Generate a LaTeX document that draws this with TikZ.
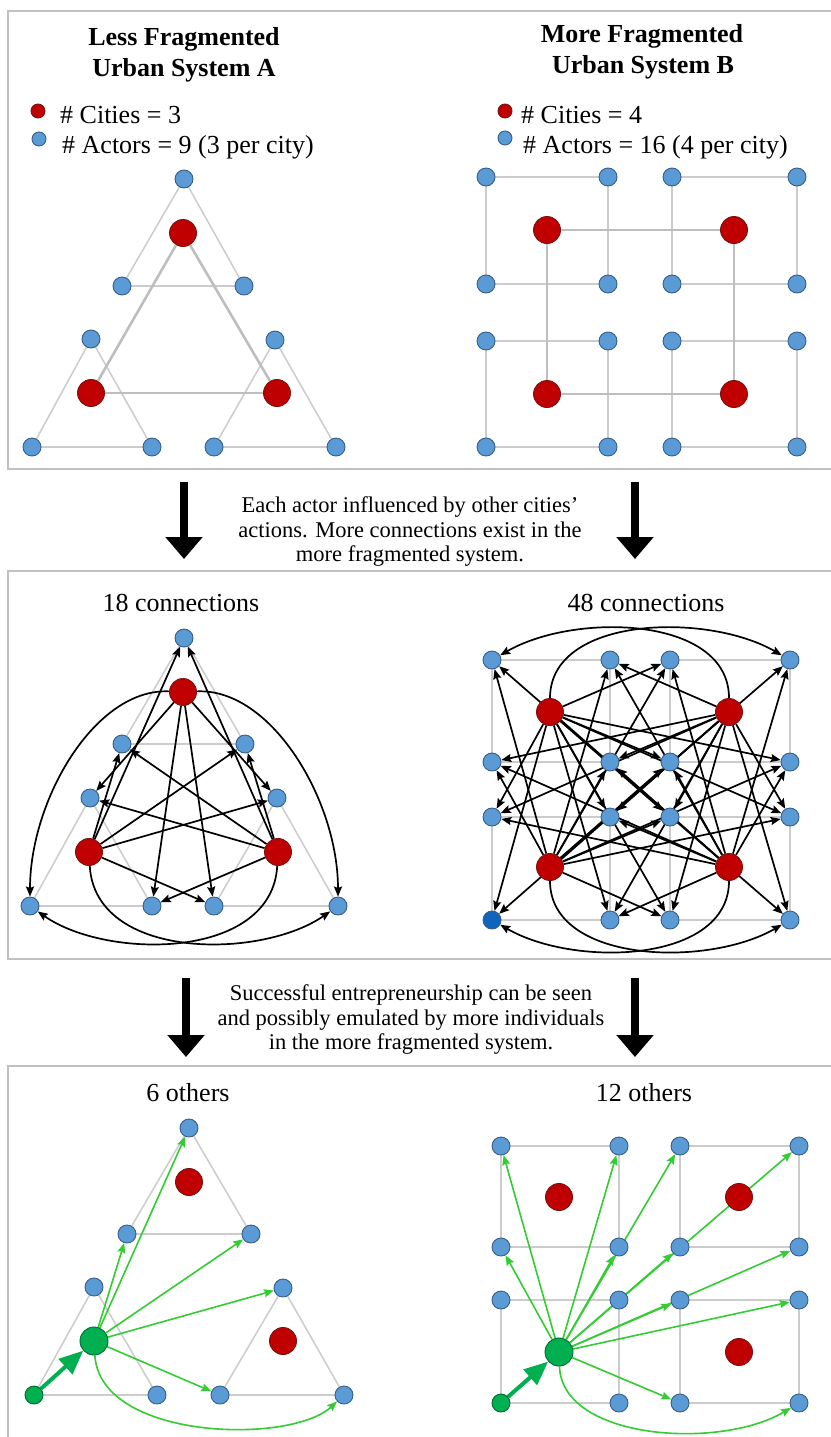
\documentclass[tikz,border=0pt]{standalone}
\usepackage{fontspec}
\setmainfont{Liberation Serif}
\usetikzlibrary{arrows.meta,backgrounds}
\definecolor{bluefill}{RGB}{91,155,213}
\definecolor{blueline}{RGB}{56,93,138}
\definecolor{darkbluefill}{RGB}{16,100,190}
\definecolor{redfill}{RGB}{192,0,0}
\definecolor{redline}{RGB}{120,20,20}
\definecolor{gridgray}{RGB}{204,204,204}
\definecolor{linkgray}{RGB}{190,190,190}
\definecolor{panelgray}{RGB}{192,192,192}
\definecolor{greenfill}{RGB}{0,176,80}
\definecolor{greenline}{RGB}{0,105,50}
\definecolor{greenarrow}{RGB}{51,204,51}
\tikzset{
  actor/.style={circle, fill=bluefill, draw=blueline, line width=0.9pt, minimum size=18pt, inner sep=0pt},
  actordark/.style={actor, fill=darkbluefill},
  city/.style={circle, fill=redfill, draw=redline, line width=0.9pt, minimum size=27pt, inner sep=0pt},
  entre/.style={circle, fill=greenfill, draw=greenline, line width=0.9pt, minimum size=28pt, inner sep=0pt},
  entresmall/.style={entre, minimum size=18pt},
  legactor/.style={actor, minimum size=14pt},
  legcity/.style={city, minimum size=14pt},
  gridline/.style={draw=gridgray, line width=1.5pt},
  citylink/.style={draw=linkgray, line width=2.6pt},
  panel/.style={draw=panelgray, line width=1.5pt},
  infl/.style={draw=black, line width=1.7pt, -{Stealth[length=10pt,width=8pt,inset=1.5pt]}},
  seen/.style={draw=greenarrow, line width=1.6pt, -{Stealth[length=10pt,width=8pt,inset=1.5pt]}},
  emul/.style={draw=greenfill, line width=4pt, -{Triangle[length=24pt,width=20pt]}},
  flowarrow/.style={draw=black, line width=8pt, -{Triangle[length=22pt,width=36pt]}},
  title/.style={font=\fontsize{26}{31}\selectfont\bfseries, inner sep=0pt, anchor=base},
  legtext/.style={font=\fontsize{26}{31}\selectfont, inner sep=0pt, anchor=base west},
  captext/.style={font=\fontsize{26}{31}\selectfont, inner sep=0pt, anchor=base},
  note/.style={font=\fontsize{22.5}{25}\selectfont, inner sep=0pt, anchor=base},
}
\begin{document}
\begin{tikzpicture}[x=1pt,y=-1pt]
\useasboundingbox (0,0) rectangle (830,1437);

% ================= titles and legends =================
\node[title] (tA1) at (184,46) {Less Fragmented};
\node[title] (tA2) at (184,76) {Urban System A};
\node[title] (tB1) at (642,43) {More Fragmented};
\node[title] (tB2) at (643,74) {Urban System B};
\node[legcity] (lgA1) at (38,111) {};
\node[legactor] (lgA2) at (39,139) {};
\node[legtext] (lgA1t) at (60,123) {\# Cities = 3};
\node[legtext] (lgA2t) at (62,153) {\# Actors = 9 (3 per city)};
\node[legcity] (lgB1) at (505,111) {};
\node[legactor] (lgB2) at (505,138) {};
\node[legtext] (lgB1t) at (521,123) {\# Cities = 4};
\node[legtext] (lgB2t) at (523,153) {\# Actors = 16 (4 per city)};

\node[captext] (capA2) at (181,611) {18 connections};
\node[captext] (capB2) at (646,611) {48 connections};
\node[captext] (capA3) at (188,1101) {6 others};
\node[captext] (capB3) at (644,1101) {12 others};

\node[note] (n1a) at (410,512) {Each actor influenced by other cities’};
\node[note] (n1b) at (410,537) {actions. More connections exist in the};
\node[note] (n1c) at (410,561) {more fragmented system.};
\node[note] (n2a) at (411,1000) {Successful entrepreneurship can be seen};
\node[note] (n2b) at (411,1025) {and possibly emulated by more individuals};
\node[note] (n2c) at (411,1049) {in the more fragmented system.};

\coordinate (f1a) at (184,482); \coordinate (f1b) at (184,559);
\coordinate (f2a) at (635,482); \coordinate (f2b) at (635,559);
\coordinate (f3a) at (186,978); \coordinate (f3b) at (186,1057);
\coordinate (f4a) at (635,978); \coordinate (f4b) at (635,1057);

% ================= panel 1, system A =================
\node[actor] (A1T) at (184,179) {};
\node[city]  (A1C) at (183,233) {};
\node[actor] (A1ML) at (122,286) {};
\node[actor] (A1MR) at (244,286) {};
\node[actor] (A1LT) at (91,339) {};
\node[actor] (A1RT) at (275,340) {};
\node[city]  (A1LC) at (91,393) {};
\node[city]  (A1RC) at (277,393) {};
\node[actor] (A1LB1) at (32,447) {};
\node[actor] (A1LB2) at (152,447) {};
\node[actor] (A1RB1) at (214,447) {};
\node[actor] (A1RB2) at (336,447) {};

% ================= panel 1, system B =================
\foreach \r/\y in {1/177,2/284,3/341,4/447}
  \foreach \c/\x in {1/486,2/608,3/672,4/797}
    \node[actor] (B1g\r\c) at (\x,\y) {};
\node[city] (B1cTL) at (547,230) {};
\node[city] (B1cTR) at (734,230) {};
\node[city] (B1cBL) at (547,394) {};
\node[city] (B1cBR) at (734,394) {};

% ================= panel 2, system A =================
\node[actor] (A2T) at (184,638) {};
\node[city]  (A2C) at (183,692) {};
\node[actor] (A2ML) at (122,744) {};
\node[actor] (A2MR) at (245,744) {};
\node[actor] (A2LT) at (90,798) {};
\node[actor] (A2RT) at (277,798) {};
\node[city]  (A2LC) at (89,852) {};
\node[city]  (A2RC) at (278,852) {};
\node[actor] (A2LB1) at (30,906) {};
\node[actor] (A2LB2) at (152,906) {};
\node[actor] (A2RB1) at (214,906) {};
\node[actor] (A2RB2) at (338,906) {};

% ================= panel 2, system B =================
\foreach \r/\y in {1/660,2/762,3/817}
  \foreach \c/\x in {1/492,2/610,3/670,4/790}
    \node[actor] (B2g\r\c) at (\x,\y) {};
\node[actordark] (B2g41) at (492,920) {};
\foreach \c/\x in {2/610,3/670,4/790}
  \node[actor] (B2g4\c) at (\x,920) {};
\node[city] (B2cTL) at (550,712) {};
\node[city] (B2cTR) at (729,712) {};
\node[city] (B2cBL) at (550,867) {};
\node[city] (B2cBR) at (729,867) {};

% ================= panel 3, system A =================
\node[actor] (A3T) at (189,1128) {};
\node[city]  (A3C) at (189,1182) {};
\node[actor] (A3ML) at (127,1234) {};
\node[actor] (A3MR) at (251,1234) {};
\node[actor] (A3LT) at (94,1287) {};
\node[actor] (A3RT) at (283,1288) {};
\node[entre] (A3G) at (94,1341) {};
\node[city]  (A3RC) at (283,1341) {};
\node[entresmall] (A3LB1) at (34,1395) {};
\node[actor] (A3LB2) at (157,1395) {};
\node[actor] (A3RB1) at (220,1395) {};
\node[actor] (A3RB2) at (344,1395) {};

% ================= panel 3, system B =================
\foreach \r/\y in {1/1146,2/1247,3/1300}
  \foreach \c/\x in {1/501,2/619,3/680,4/799}
    \node[actor] (B3g\r\c) at (\x,\y) {};
\node[entresmall] (B3g41) at (501,1403) {};
\foreach \c/\x in {2/619,3/680,4/799}
  \node[actor] (B3g4\c) at (\x,1403) {};
\node[city] (B3cTL) at (559,1197) {};
\node[city] (B3cTR) at (739,1197) {};
\node[city] (B3cBR) at (739,1352) {};
\node[entre] (B3G) at (559,1352) {};

% ================= background: frames, lines, arrows =================
\begin{scope}[on background layer]
\fill[white] (0,0) rectangle (830,1437);
\draw[panel] (835,11) -- (8,11) -- (8,469) -- (835,469);
\draw[panel] (835,571) -- (8,571) -- (8,959) -- (835,959);
\draw[panel] (835,1066) -- (8,1066) -- (8,1445);

\draw[flowarrow] (f1a) -- (f1b);
\draw[flowarrow] (f2a) -- (f2b);
\draw[flowarrow] (f3a) -- (f3b);
\draw[flowarrow] (f4a) -- (f4b);

% triangles of system A (all panels)
\foreach \p in {A1,A2,A3} {
  \draw[gridline] (\p T) -- (\p ML);
  \draw[gridline] (\p T) -- (\p MR);
  \draw[gridline] (\p ML) -- (\p MR);
  \draw[gridline] (\p LT) -- (\p LB1);
  \draw[gridline] (\p LT) -- (\p LB2);
  \draw[gridline] (\p LB1) -- (\p LB2);
  \draw[gridline] (\p RT) -- (\p RB1);
  \draw[gridline] (\p RT) -- (\p RB2);
  \draw[gridline] (\p RB1) -- (\p RB2);
}
% squares of system B (all panels)
\foreach \p in {B1,B2,B3}
  \foreach \a/\b in {11/12,11/21,12/22,21/22,13/14,13/23,14/24,23/24,31/32,31/41,32/42,41/42,33/34,33/43,34/44,43/44}
    \draw[gridline] (\p g\a) -- (\p g\b);

% links between cities (panel 1)
\draw[citylink] (A1C) -- (A1LC);
\draw[citylink] (A1C) -- (A1RC);
\draw[citylink] (A1LC) -- (A1RC);
\draw[citylink] (B1cTL) -- (B1cTR);
\draw[citylink] (B1cTL) -- (B1cBL);
\draw[citylink] (B1cTR) -- (B1cBR);
\draw[citylink] (B1cBL) -- (B1cBR);

% panel 2, system A: 18 connections
\foreach \t in {A2LT,A2RT,A2LB2,A2RB1} \draw[infl] (A2C) -- (\t);
\draw[infl] (A2C) .. controls (95,688) and (30,800) .. (A2LB1);
\draw[infl] (A2C) .. controls (271,688) and (338,800) .. (A2RB2);
\foreach \t in {A2T,A2ML,A2MR,A2RT,A2RB1} \draw[infl] (A2LC) -- (\t);
\draw[infl] (A2LC) .. controls (95,960) and (260,960) .. (A2RB2);
\foreach \t in {A2T,A2ML,A2MR,A2LT,A2LB2} \draw[infl] (A2RC) -- (\t);
\draw[infl] (A2RC) .. controls (272,960) and (107,960) .. (A2LB1);

% panel 2, system B: 48 connections
\foreach \t in {13,23,24,31,32,41,42,33,34,43,44} \draw[infl] (B2cTL) -- (B2g\t);
\draw[infl] (B2cTL) .. controls (550,616) and (707,612) .. (B2g14);
\foreach \t in {12,21,22,31,32,41,42,33,34,43,44} \draw[infl] (B2cTR) -- (B2g\t);
\draw[infl] (B2cTR) .. controls (729,616) and (575,612) .. (B2g11);
\foreach \t in {11,12,21,22,13,14,23,24,33,34,43} \draw[infl] (B2cBL) -- (B2g\t);
\draw[infl] (B2cBL) .. controls (550,963) and (707,968) .. (B2g44);
\foreach \t in {11,12,21,22,13,14,23,24,31,32,42} \draw[infl] (B2cBR) -- (B2g\t);
\draw[infl] (B2cBR) .. controls (729,963) and (575,968) .. (B2g41);

% panel 3, system A: 6 others
\draw[emul] (A3LB1) -- (A3G);
\foreach \t in {A3T,A3ML,A3MR,A3RT,A3RB1} \draw[seen] (A3G) -- (\t);
\draw[seen] (A3G) .. controls (100,1440) and (290,1445) .. (A3RB2);

% panel 3, system B: 12 others
\draw[emul] (B3g41) -- (B3G);
\foreach \t in {11,12,13,14,21,22,23,24,33,34,43} \draw[seen] (B3G) -- (B3g\t);
\draw[seen] (B3G) .. controls (562,1440) and (720,1450) .. (B3g44);
\end{scope}
\end{tikzpicture}
\end{document}
